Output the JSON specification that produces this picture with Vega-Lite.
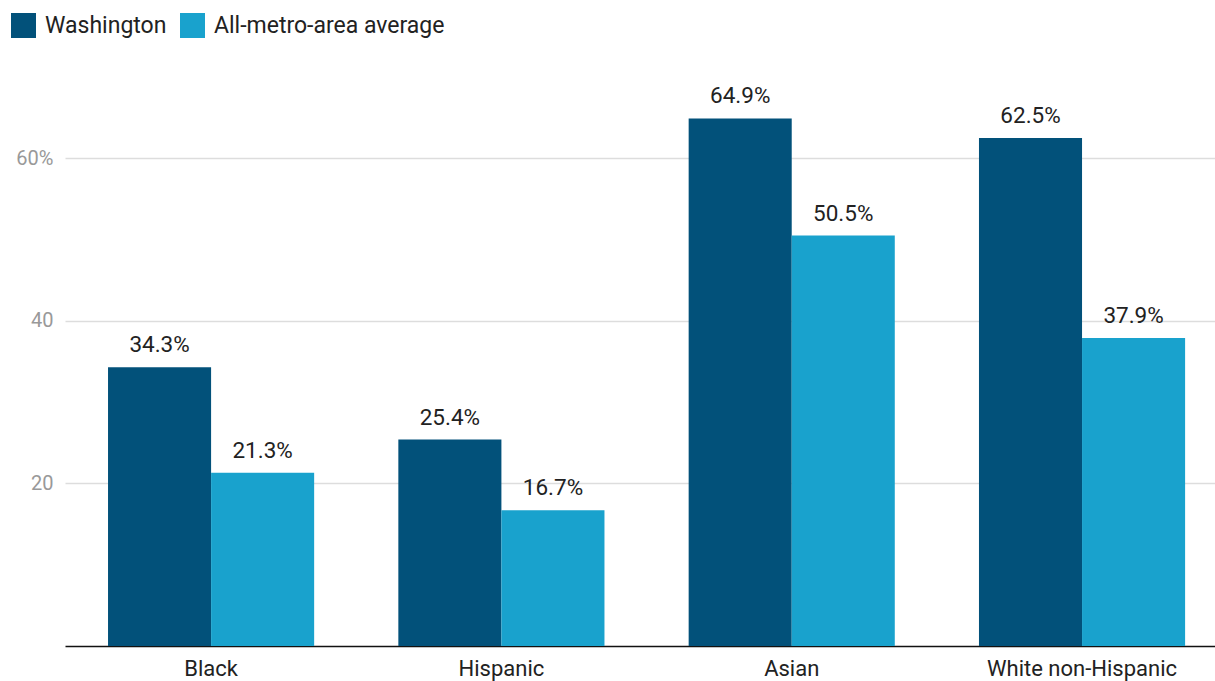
{
  "$schema": "https://vega.github.io/schema/vega-lite/v6.json",
  "width": 1150,
  "height": 569,
  "autosize": {"type": "none"},
  "padding": {"left": 65, "top": 77, "right": 0, "bottom": 35},
  "background": "white",
  "config": {
    "font": "Roboto",
    "view": {"stroke": null}
  },
  "data": {
    "values": [
      {"group": "Black", "series": "Washington", "value": 34.3},
      {"group": "Black", "series": "All-metro-area average", "value": 21.3},
      {"group": "Hispanic", "series": "Washington", "value": 25.4},
      {"group": "Hispanic", "series": "All-metro-area average", "value": 16.7},
      {"group": "Asian", "series": "Washington", "value": 64.9},
      {"group": "Asian", "series": "All-metro-area average", "value": 50.5},
      {"group": "White non-Hispanic", "series": "Washington", "value": 62.5},
      {"group": "White non-Hispanic", "series": "All-metro-area average", "value": 37.9}
    ]
  },
  "transform": [
    {"calculate": "format(datum.value, '.1f') + '%'", "as": "label"}
  ],
  "encoding": {
    "x": {
      "field": "group",
      "type": "nominal",
      "sort": ["Black", "Hispanic", "Asian", "White non-Hispanic"],
      "scale": {"paddingInner": 0.29, "paddingOuter": 0.1256, "align": 0.59},
      "axis": {
        "title": null,
        "labelAngle": 0,
        "labelFontSize": 22,
        "labelColor": "#222222",
        "labelPadding": 12,
        "labelLimit": 0,
        "ticks": false,
        "domainColor": "#111111",
        "domainWidth": 1.5
      }
    },
    "xOffset": {
      "field": "series",
      "type": "nominal",
      "sort": ["Washington", "All-metro-area average"],
      "scale": {"paddingInner": 0, "paddingOuter": 0}
    },
    "y": {
      "field": "value",
      "type": "quantitative",
      "scale": {"domain": [0, 70], "nice": false},
      "axis": {
        "title": null,
        "values": [20, 40, 60],
        "labelExpr": "datum.value == 60 ? '60%' : datum.label",
        "labelFontSize": 20,
        "labelColor": "#999999",
        "labelPadding": 12,
        "ticks": false,
        "domain": false,
        "gridColor": "#dddddd",
        "gridWidth": 1.5
      }
    }
  },
  "layer": [
    {
      "mark": {"type": "bar"},
      "encoding": {
        "color": {
          "field": "series",
          "type": "nominal",
          "sort": ["Washington", "All-metro-area average"],
          "scale": {
            "domain": ["Washington", "All-metro-area average"],
            "range": ["#02517a", "#19a2cd"]
          },
          "legend": {
            "title": null,
            "orient": "none",
            "direction": "horizontal",
            "legendX": -54,
            "legendY": -64,
            "symbolType": "square",
            "symbolSize": 625,
            "symbolStrokeWidth": 0,
            "labelFontSize": 23,
            "labelColor": "#222222",
            "labelOffset": 9,
            "labelLimit": 0,
            "columnPadding": 13
          }
        }
      }
    },
    {
      "mark": {"type": "text", "baseline": "bottom", "dy": -10, "fontSize": 22.5, "color": "#222222"},
      "encoding": {
        "text": {"field": "label", "type": "nominal"}
      }
    }
  ]
}
